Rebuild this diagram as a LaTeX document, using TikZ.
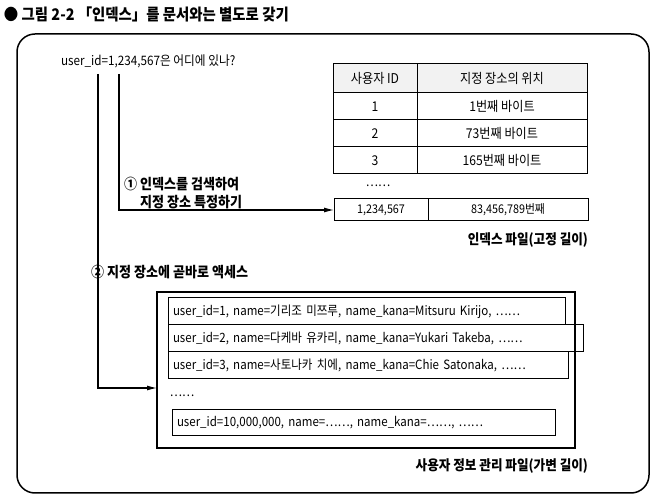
\documentclass[tikz,border=0pt]{standalone}
\usepackage{fontspec}
\setmainfont{Noto Sans CJK KR}[FakeStretch=0.9]
\usepackage{tikz}
\usetikzlibrary{arrows.meta,positioning}

\begin{document}
\begin{tikzpicture}[
  x=1pt, y=-1pt,
  every node/.style={inner sep=0pt, outer sep=0pt, font=\fontsize{12.8}{14}\selectfont},
  cell/.style={rectangle, draw, line width=1pt, minimum height=27pt, font=\fontsize{13.5}{15}\selectfont},
  hcell/.style={cell, fill=gray!10, minimum height=29pt},
  rec/.style={rectangle, draw, line width=1pt, anchor=north west, minimum height=27pt, text width=#1-10pt, minimum width=#1, inner xsep=5pt, align=left},
  caption/.style={anchor=north east, font=\bfseries\fontsize{14}{16}\selectfont},
  arr/.style={-{Latex[length=10pt, width=5pt]}, line width=1.1pt}
]
\useasboundingbox (0,0) rectangle (659,502);

\node[anchor=west, font=\bfseries\fontsize{16}{18}\selectfont] (title) at (4,14) {● 그림 2-2 「인덱스」를 문서와는 별도로 갖기};
\node[draw, line width=1.5pt, rounded corners=18pt, anchor=north west, minimum width=632pt, minimum height=459pt] (frame) at (17,34) {};

\node[anchor=west, font=\fontsize{13}{15}\selectfont] (query) at (61,61) {user\_id=1,234,567은 어디에 있나?};

% index file
\node[hcell, anchor=north west, minimum width=84pt] (hid) at (333,64) {사용자 ID};
\node[hcell, right=0pt of hid, minimum width=170pt] (hpos) {지정 장소의 위치};
\node[cell, below=0pt of hid, minimum width=84pt] (id1) {1};
\node[cell, right=0pt of id1, minimum width=170pt] (pos1) {1번째 바이트};
\node[cell, below=0pt of id1, minimum width=84pt] (id2) {2};
\node[cell, right=0pt of id2, minimum width=170pt] (pos2) {73번째 바이트};
\node[cell, below=0pt of id2, minimum width=84pt] (id3) {3};
\node[cell, right=0pt of id3, minimum width=170pt] (pos3) {165번째 바이트};
\node (idxdots) at (378,186) {……};
\node[cell, anchor=north west, minimum width=94pt, minimum height=22pt, font=\fontsize{12}{14}\selectfont] (idxkey) at (334,199) {1,234,567};
\node[cell, right=0pt of idxkey, minimum width=160pt, minimum height=22pt, font=\fontsize{12}{14}\selectfont] (idxpos) {83,456,789번째};
\node[caption] (idxcap) at (588,233) {인덱스 파일(고정 길이)};

% user info file
\node[rectangle, draw, line width=1.2pt, anchor=north west, minimum width=418pt, minimum height=156pt] (userfile) at (157,292) {};
\node[rec=397pt] (rec1) at (168,298) {user\_id=1, name=기리조 미쯔루, name\_kana=Mitsuru Kirijo, ……};
\node[rec=415pt] (rec2) at (rec1.south west) {user\_id=2, name=다케바 유카리, name\_kana=Yukari Takeba, ……};
\node[rec=400pt] (rec3) at (rec2.south west) {user\_id=3, name=사토나카 치에, name\_kana=Chie Satonaka, ……};
\node (recdots) at (182,396) {……};
\node[rec=383pt, minimum height=26pt] (rec4) at (172,410) {user\_id=10,000,000, name=……, name\_kana=……, ……};
\node[caption] (usercap) at (588,459) {사용자 정보 관리 파일(가변 길이)};

% lookup paths
\coordinate (q1) at (98,74);
\coordinate (q2) at (119,74);
\coordinate (in2) at (157,388);
\draw[arr] (q2) |- (idxkey.west);
\draw[arr] (q1) |- (in2);
\node[anchor=north west, align=left, font=\bfseries\fontsize{14.5}{18}\selectfont] (step1) at (124,177) {① 인덱스를 검색하여\\\hphantom{① }지정 장소 특정하기};
\node[anchor=west, font=\bfseries\fontsize{14.5}{16}\selectfont] (step2) at (91,272) {② 지정 장소에 곧바로 액세스};
\end{tikzpicture}
\end{document}
